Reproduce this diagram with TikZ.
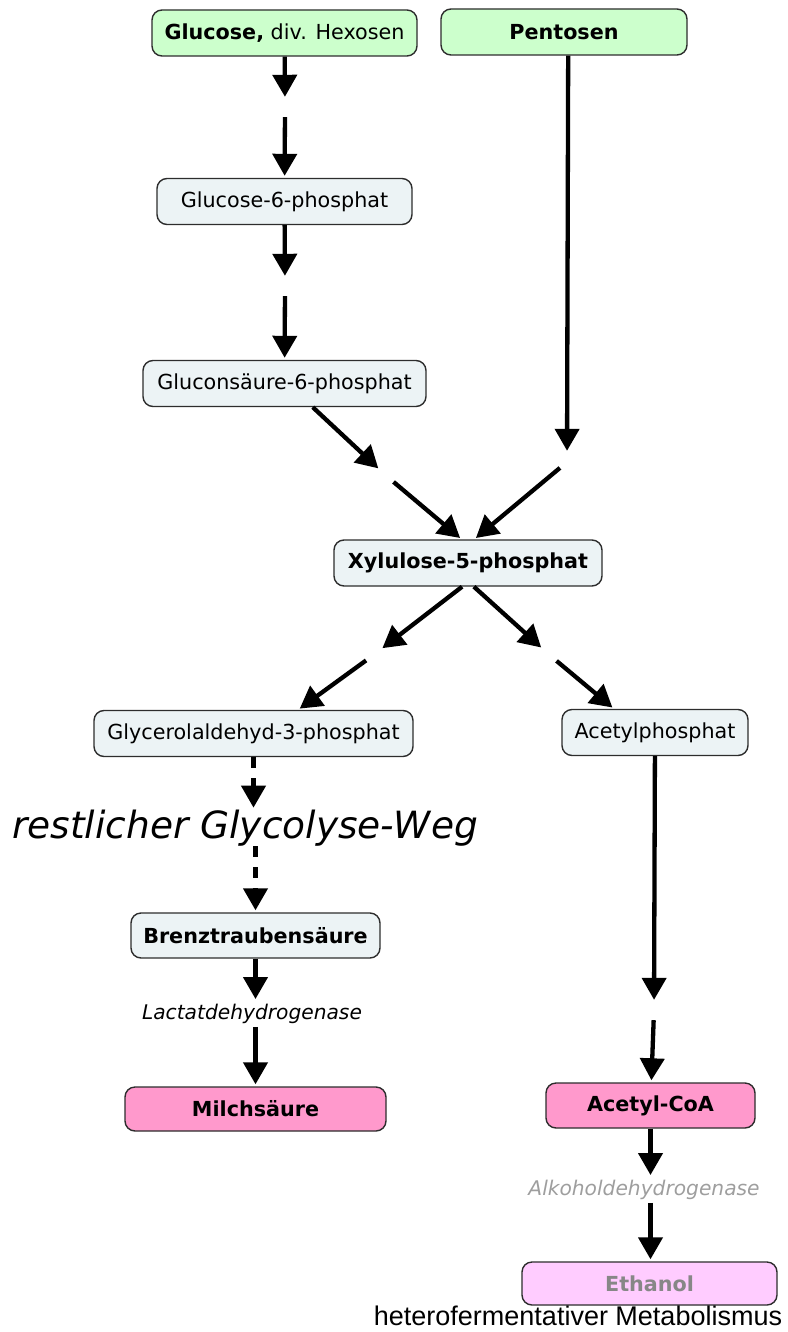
\documentclass[tikz,border=0pt]{standalone}
\usepackage{fontspec}
\setmainfont{DejaVu Sans}
\newfontfamily\arialfont{Liberation Sans}
\usepackage{tikz}
\usetikzlibrary{arrows.meta}
\definecolor{zuckergruen}{RGB}{204,255,204}
\definecolor{zwischengrau}{RGB}{236,243,245}
\definecolor{produktrosa}{RGB}{255,153,204}
\definecolor{ethanolrosa}{RGB}{255,204,255}
\definecolor{rahmen}{RGB}{45,45,45}

\tikzset{
  stoff/.style={draw=rahmen, line width=1.4pt, rounded corners=10pt,
    minimum height=46pt, inner sep=0pt, font=\fontsize{20.7}{24}\selectfont},
  zucker/.style={stoff, fill=zuckergruen},
  zwischen/.style={stoff, fill=zwischengrau},
  produkt/.style={stoff, fill=produktrosa},
  endprodukt/.style={stoff, fill=ethanolrosa},
  verbindung/.style={circle, minimum size=18pt, inner sep=0pt},
  enzym/.style={inner sep=3pt, font=\fontsize{20.2}{24}\selectfont\itshape},
  pfeil/.style={line width=4.3pt, shorten >=2pt,
    -{Triangle[length=22pt,width=24pt]}},
  pfeilgestrichelt/.style={pfeil, dash pattern=on 11pt off 10pt}
}

\begin{document}
\begin{tikzpicture}[x=1pt, y=-1pt]
  \useasboundingbox (0,0) rectangle (787,1332);

  % Zucker oben
  \node[zucker, minimum width=265pt] (glc) at (284.5,33) {\textbf{Glucose,} div. Hexosen};
  \node[zucker, minimum width=246pt] (pen) at (564,32) {\textbf{Pentosen}};

  % oxidativer Teil
  \node[zwischen, minimum width=255pt] (g6p) at (284.5,201.5) {Glucose-6-phosphat};
  \node[zwischen, minimum width=283pt] (gcs) at (284.5,383.5) {Gluconsäure-6-phosphat};
  \node[zwischen, minimum width=268pt] (xyl) at (468,563) {\textbf{Xylulose-5-phosphat}};

  % Spaltung
  \node[zwischen, minimum width=319pt] (gap) at (253.5,733.5) {Glycerolaldehyd-3-phosphat};
  \node[zwischen, minimum width=186pt] (acp) at (655,732.5) {Acetylphosphat};

  % linker Zweig
  \node[inner sep=0pt, font=\fontsize{37.5}{42}\selectfont\itshape] (rgw) at (245,828) {restlicher Glycolyse-Weg};
  \node[zwischen, minimum width=249pt, minimum height=45pt] (bzs) at (255.5,935.5) {\textbf{Brenztraubensäure}};
  \node[enzym] (ldh) at (252,1014) {Lactatdehydrogenase};
  \node[produkt, minimum width=261pt, minimum height=44pt] (mil) at (255.5,1109) {\textbf{Milchsäure}};

  % rechter Zweig
  \node[produkt, minimum width=209pt, minimum height=45pt] (aco) at (650.5,1105.5) {\textbf{Acetyl-CoA}};
  \node[enzym, text=black!38] (adh) at (644,1190) {Alkoholdehydrogenase};
  \node[endprodukt, minimum width=255pt, minimum height=43pt, text=black!47] (eth) at (649.5,1283.5) {\textbf{Ethanol}};

  % Verbindungspunkte
  \node[verbindung] (l1) at (285,108) {};
  \node[verbindung] (l2) at (285,287) {};
  \node[verbindung] (l3) at (386.5,476) {};
  \node[verbindung] (l4) at (567,462) {};
  \node[verbindung] (l5) at (373.5,655) {};
  \node[verbindung] (l6) at (549.5,655) {};
  \node[verbindung] (l9) at (654,1011) {};

  % Pfeile
  \draw[pfeil] (glc) -- (l1);
  \draw[pfeil] (l1) -- (g6p);
  \draw[pfeil] (g6p) -- (l2);
  \draw[pfeil] (l2) -- (gcs);
  \draw[pfeil] (gcs.320) -- (l3);
  \draw[pfeil] (l3) -- (xyl.105);
  \draw[pfeil] (pen.280) -- (l4);
  \draw[pfeil] (l4) -- (xyl.75);
  \draw[pfeil] (xyl.256) -- (l5);
  \draw[pfeil] (l5) -- (gap.28);
  \draw[pfeil] (xyl.284) -- (l6);
  \draw[pfeil] (l6) -- (acp.150);
  \draw[pfeilgestrichelt] (gap) -- (rgw.north -| gap);
  \draw[pfeilgestrichelt] (rgw.south -| bzs) -- (bzs);
  \draw[pfeil] (bzs) -- (ldh.north -| bzs);
  \draw[pfeil] (ldh.south -| mil) -- (mil);
  \draw[pfeil] (acp) -- (l9);
  \draw[pfeil] (l9) -- (aco);
  \draw[pfeil] (aco) -- (adh.north -| aco);
  \draw[pfeil] (adh.south -| aco) -- (eth.north -| aco);

  \node[font=\arialfont\fontsize{27}{30}\selectfont] (titel) at (578,1316) {heterofermentativer Metabolismus};
\end{tikzpicture}
\end{document}
